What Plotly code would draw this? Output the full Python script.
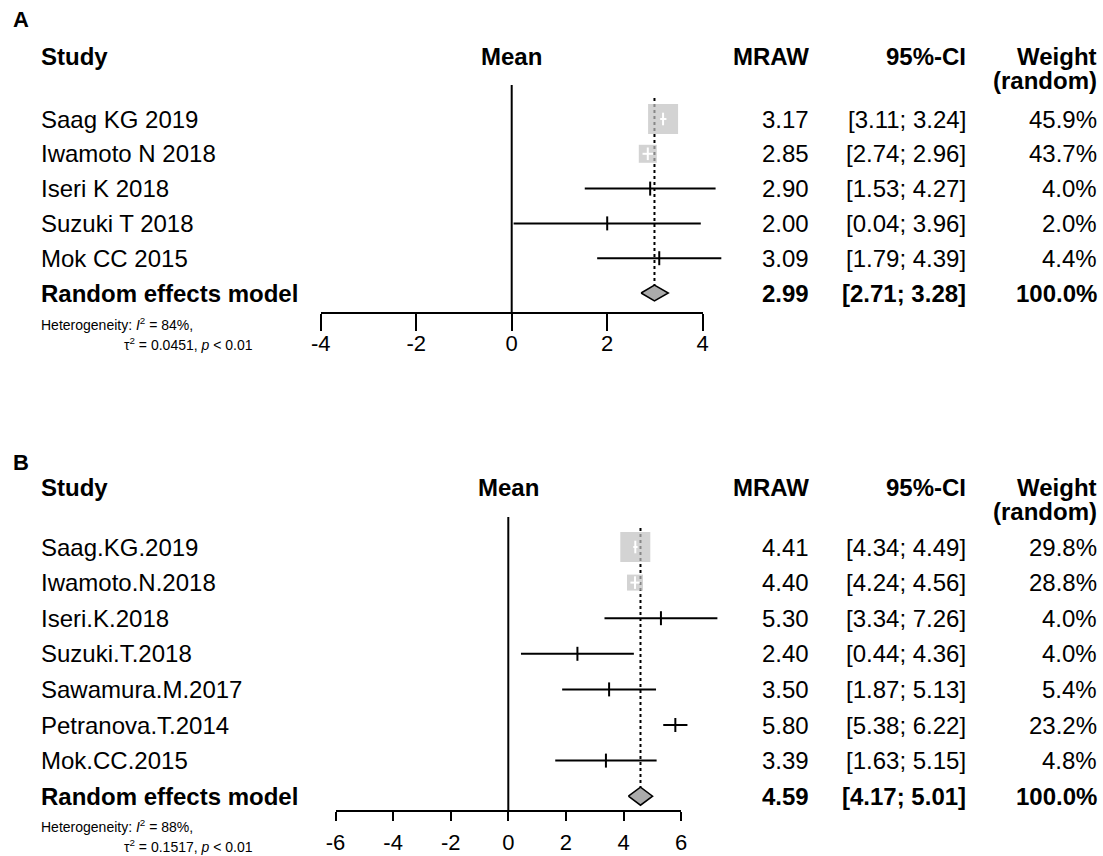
import plotly.graph_objects as go

W, H = 1103, 856

# ---------------- data: panel A ----------------
studies_A = ["Saag KG 2019", "Iwamoto N 2018", "Iseri K 2018", "Suzuki T 2018", "Mok CC 2015"]
mean_A = [3.17, 2.85, 2.90, 2.00, 3.09]
lower_A = [3.11, 2.74, 1.53, 0.04, 1.79]
upper_A = [3.24, 2.96, 4.27, 3.96, 4.39]
weight_A = [45.9, 43.7, 4.0, 2.0, 4.4]
pooled_A = [2.99, 2.71, 3.28]          # mean, lower, upper
het_A = ["84%", "0.0451", "0.01"]      # I^2, tau^2, p
ticks_A = [-4, -2, 0, 2, 4]

# ---------------- data: panel B ----------------
studies_B = ["Saag.KG.2019", "Iwamoto.N.2018", "Iseri.K.2018", "Suzuki.T.2018",
             "Sawamura.M.2017", "Petranova.T.2014", "Mok.CC.2015"]
mean_B = [4.41, 4.40, 5.30, 2.40, 3.50, 5.80, 3.39]
lower_B = [4.34, 4.24, 3.34, 0.44, 1.87, 5.38, 1.63]
upper_B = [4.49, 4.56, 7.26, 4.36, 5.13, 6.22, 5.15]
weight_B = [29.8, 28.8, 4.0, 4.0, 5.4, 23.2, 4.8]
pooled_B = [4.59, 4.17, 5.01]
het_B = ["88%", "0.1517", "0.01"]
ticks_B = [-6, -4, -2, 0, 2, 4, 6]

# ---------------- layout / style (pixels) ----------------
FONT = "Liberation Sans, Arial, Helvetica, sans-serif"
FS = 24
TICKFS = 22
SMALL = 14
GREY = "#c0c0c0"
DIAMOND = "#ababab"

panels = [
    dict(label="A", studies=studies_A, mean=mean_A, lo=lower_A, hi=upper_A, w=weight_A,
         pooled=pooled_A, het=het_A, ticks=ticks_A,
         zero_px=511.7, unit_px=47.75, row0_px=119, step_px=34.8,
         axis_px=312, ticklen=17, standoff=-6, zero_top_px=85, dot_top_px=98,
         label_px=20, head_px=57, head2_px=80, het1_px=324, het2_px=344,
         sq=[30, 18, 0, 0, 0], diam_half_px=8,
         xd="x", yd="y", xa="x3", ya="y3"),
    dict(label="B", studies=studies_B, mean=mean_B, lo=lower_B, hi=upper_B, w=weight_B,
         pooled=pooled_B, het=het_B, ticks=ticks_B,
         zero_px=508.3, unit_px=28.8, row0_px=547, step_px=35.6,
         axis_px=810, ticklen=9, standoff=3, zero_top_px=517, dot_top_px=528,
         label_px=462, head_px=488, head2_px=511, het1_px=826, het2_px=846,
         sq=[30, 16, 0, 0, 0, 0, 0], diam_half_px=9,
         xd="x2", yd="y2", xa="x4", ya="y4"),
]

NAME_X, MRAW_R, CI_R, W_R, TAU_X = 40, 810, 967, 1098, 123

fig = go.Figure()
annotations = []
layout_axes = {}


def axname(ref):
    return ref[0] + "axis" + ref[1:]


def ann(text, x_px, yval, yref, xanchor, size=FS):
    annotations.append(dict(text=text, x=x_px / W, xref="paper", y=yval, yref=yref,
                            xanchor=xanchor, yanchor="middle", showarrow=False,
                            font=dict(family=FONT, size=size, color="black"),
                            borderpad=0))


for p in panels:
    n = len(p["studies"])
    z, u, r0, st = p["zero_px"], p["unit_px"], p["row0_px"], p["step_px"]
    row = lambda px, r0=r0, st=st: (px - r0) / st
    xd, yd = p["xd"], p["yd"]
    common = dict(xaxis=xd, yaxis=yd, showlegend=False, hoverinfo="skip")

    # data axes spanning the whole figure, mapped by pixel scale
    layout_axes[axname(xd)] = dict(domain=[0, 1], range=[-z / u, (W - z) / u],
                                   visible=False, fixedrange=True)
    layout_axes[axname(yd)] = dict(domain=[0, 1], range=[row(H), row(0)],
                                   visible=False, fixedrange=True)

    # vertical zero line
    fig.add_trace(go.Scatter(x=[0, 0], y=[row(p["zero_top_px"]), row(p["axis_px"])],
                             mode="lines", line=dict(color="black", width=2), **common))
    # dotted line at pooled estimate
    pm, pl, ph = p["pooled"]
    dh = p["diam_half_px"] / st
    fig.add_trace(go.Scatter(x=[pm, pm], y=[row(p["dot_top_px"]), n - dh],
                             mode="lines", line=dict(color="black", width=2, dash="dot"),
                             **common))

    # CI lines: black if outside square, white if inside
    bx, by, wx, wy = [], [], [], []
    for i in range(n):
        inside = p["sq"][i] >= (p["hi"][i] - p["lo"][i]) * u
        tx, ty = (wx, wy) if inside else (bx, by)
        tx += [p["lo"][i], p["hi"][i], None]
        ty += [i, i, None]
    fig.add_trace(go.Scatter(x=bx, y=by, mode="lines",
                             line=dict(color="black", width=2), **common))
    # squares
    sq_idx = [i for i in range(n) if p["sq"][i] > 0]
    fig.add_trace(go.Scatter(x=[p["mean"][i] for i in sq_idx], y=sq_idx, mode="markers",
                             marker=dict(symbol="square", size=[p["sq"][i] for i in sq_idx],
                                         color=GREY, line=dict(width=0)), **common))
    fig.add_trace(go.Scatter(x=wx, y=wy, mode="lines",
                             line=dict(color="white", width=2), **common))
    # point ticks
    fig.add_trace(go.Scatter(x=[p["mean"][i] for i in sq_idx], y=sq_idx, mode="markers",
                             marker=dict(symbol="line-ns-open", size=9, color="white",
                                         line=dict(color="white", width=2)), **common))
    small_idx = [i for i in range(n) if p["sq"][i] == 0]
    fig.add_trace(go.Scatter(x=[p["mean"][i] for i in small_idx], y=small_idx, mode="markers",
                             marker=dict(symbol="line-ns-open", size=10, color="black",
                                         line=dict(color="black", width=2)), **common))
    # pooled diamond
    fig.add_trace(go.Scatter(x=[pl, pm, ph, pm, pl], y=[n, n - dh, n, n + dh, n],
                             mode="lines", fill="toself", fillcolor=DIAMOND,
                             line=dict(color="black", width=1.5), **common))

    # displayed axis restricted to tick range
    t0, t1 = p["ticks"][0], p["ticks"][-1]
    xa, ya = p["xa"], p["ya"]
    ybase = 1 - p["axis_px"] / H
    layout_axes[axname(xa)] = dict(domain=[(z + u * t0) / W, (z + u * t1) / W],
                                   range=[t0, t1], anchor=ya, showline=True,
                                   linecolor="black", linewidth=2, ticks="outside",
                                   ticklen=p["ticklen"], tickwidth=2, tickcolor="black",
                                   ticklabelstandoff=p["standoff"], automargin=False,
                                   tickvals=p["ticks"], ticktext=[str(t) for t in p["ticks"]],
                                   tickfont=dict(family=FONT, size=TICKFS, color="black"),
                                   showgrid=False, zeroline=False, fixedrange=True)
    layout_axes[axname(ya)] = dict(domain=[ybase, ybase + 0.01], visible=False,
                                   fixedrange=True)
    fig.add_trace(go.Scatter(x=[0], y=[0], xaxis=xa, yaxis=ya, mode="markers",
                             marker=dict(opacity=0), showlegend=False, hoverinfo="skip"))

    # texts
    ppy = lambda px: 1 - px / H
    ann("<b>%s</b>" % p["label"], 12, ppy(p["label_px"]), "paper", "left", size=22)
    ann("<b>Study</b>", NAME_X, ppy(p["head_px"]), "paper", "left")
    ann("<b>Mean</b>", z, ppy(p["head_px"]), "paper", "center")
    ann("<b>MRAW</b>", MRAW_R, ppy(p["head_px"]), "paper", "right")
    ann("<b>95%-CI</b>", CI_R, ppy(p["head_px"]), "paper", "right")
    ann("<b>Weight</b>", W_R, ppy(p["head_px"]), "paper", "right")
    ann("<b>(random)</b>", W_R, ppy(p["head2_px"]), "paper", "right")
    for i in range(n):
        ann(p["studies"][i], NAME_X, i, yd, "left")
        ann("%.2f" % p["mean"][i], MRAW_R, i, yd, "right")
        ann("[%.2f; %.2f]" % (p["lo"][i], p["hi"][i]), CI_R, i, yd, "right")
        ann("%.1f%%" % p["w"][i], W_R, i, yd, "right")
    ann("<b>Random effects model</b>", NAME_X, n, yd, "left")
    ann("<b>%.2f</b>" % pm, MRAW_R, n, yd, "right")
    ann("<b>[%.2f; %.2f]</b>" % (pl, ph), CI_R, n, yd, "right")
    ann("<b>%.1f%%</b>" % 100.0, W_R, n, yd, "right")
    i2, tau2, pv = p["het"]
    ann("Heterogeneity: <i>I</i><sup>2</sup> = %s," % i2, NAME_X, ppy(p["het1_px"]),
        "paper", "left", size=SMALL)
    ann("τ<sup>2</sup> = %s, <i>p</i> &lt; %s" % (tau2, pv), TAU_X, ppy(p["het2_px"]),
        "paper", "left", size=SMALL)

fig.update_layout(width=W, height=H,
                  margin=dict(l=0, r=0, t=0, b=0, pad=0, autoexpand=False),
                  paper_bgcolor="white", plot_bgcolor="rgba(0,0,0,0)",
                  annotations=annotations, showlegend=False, **layout_axes)

fig.write_html("out.html", config={"displayModeBar": False},
               post_script="document.body.style.margin='0';"
                           "document.body.style.overflow='hidden';")
